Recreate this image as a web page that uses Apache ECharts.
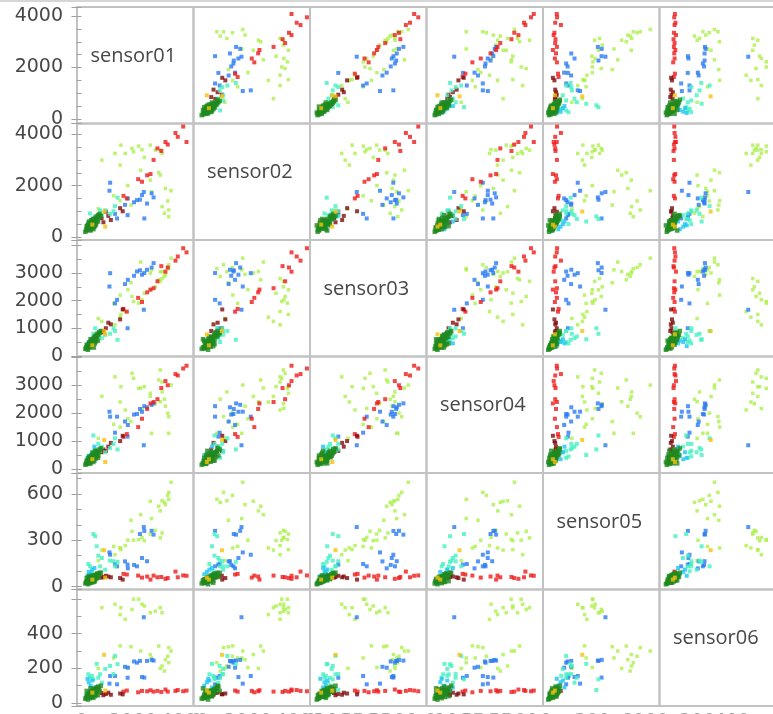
<!DOCTYPE html>
<html>
<head>
<meta charset="utf-8">
<script src="https://cdn.jsdelivr.net/npm/echarts@6/dist/echarts.min.js"></script>
<style>
  html, body { margin: 0; padding: 0; background: #ffffff; }
  #chart { width: 773px; height: 714px; }
</style>
</head>
<body>
<div id="chart"></div>
<script>
// Sensor variables shown on the diagonal
const sensorNames = ['sensor01', 'sensor02', 'sensor03', 'sensor04', 'sensor05', 'sensor06'];

// Axis extents per sensor (same extent used for the row's y axis and the column's x axis)
const axisMin = [-176, -120, -25, -144, -19, -17];
const axisMax = [4351, 4420, 4198, 4030, 735, 655];
const tickStep = [2000, 2000, 1000, 1000, 300, 200];
const minorSplit = [4, 4, 2, 2, 3, 2];
const labelTop = [4000, 4000, 3000, 3000, 600, 400];

// Observations per group: [sensor01, sensor02, sensor03, sensor04, sensor05, sensor06]
const limeRows = [
  [3480, 1800, 3540, 3007, 675, 300],
  [3390, 1050, 3300, 1874, 610, 320],
  [3390, 790, 3160, 1280, 565, 233],
  [3260, 1890, 2950, 2250, 530, 250],
  [3220, 920, 2880, 2500, 545, 185],
  [3130, 1180, 3050, 2760, 555, 214],
  [3060, 2410, 3055, 2410, 490, 200],
  [3000, 2500, 2755, 3190, 520, 329],
  [2720, 1760, 3117, 1279, 440, 260],
  [2670, 2213, 3000, 2600, 552, 280],
  [1920, 1240, 2650, 1700, 429, 325],
  [2300, 2600, 3400, 2900, 465, 300],
  [3350, 1400, 3200, 2000, 590, 270],
  [3130, 3254, 2800, 3117, 347, 521],
  [3060, 3383, 2700, 3547, 315, 550],
  [2870, 3383, 2500, 2340, 364, 530],
  [2670, 3577, 2392, 2712, 340, 521],
  [2440, 3098, 2269, 2949, 297, 560],
  [2350, 3400, 2030, 2170, 318, 570],
  [2220, 3539, 1910, 2890, 304, 599],
  [2020, 3320, 1968, 3249, 300, 599],
  [1960, 3450, 2150, 3428, 358, 540],
  [1700, 3254, 1606, 2114, 265, 483],
  [1530, 3577, 1500, 2949, 239, 550],
  [1300, 3254, 1124, 3300, 206, 570],
  [790, 2993, 1250, 2600, 236, 550],
  [1500, 2798, 1400, 2400, 250, 510],
  [1500, 1411, 2200, 1500, 250, 330],
  [1250, 1600, 1900, 1600, 260, 260],
  [650, 1100, 1350, 1100, 168, 200],
  [1800, 2000, 2400, 1800, 300, 205]
];
const blueRows = [
  [2800, 1540, 3360, 2350, 336, 245],
  [2545, 1300, 3120, 2210, 164, 243],
  [2420, 1750, 1670, 850, 385, 495],
  [2350, 1630, 2940, 2050, 185, 150],
  [2155, 1435, 3055, 1970, 131, 233],
  [1790, 850, 1000, 1160, 142, 146],
  [1800, 1500, 2755, 1576, 118, 204],
  [1380, 720, 2030, 1874, 131, 108],
  [1112, 2112, 2995, 1874, 206, 156],
  [1085, 1800, 2512, 2053, 221, 112],
  [2725, 1700, 3200, 2300, 361, 249],
  [2270, 1450, 3100, 2150, 340, 243],
  [2040, 1350, 2900, 1950, 140, 240],
  [1690, 1250, 2600, 1700, 163, 209],
  [1300, 900, 1900, 1300, 146, 156],
  [2440, 720, 3000, 2250, 360, 147]
];
const redRows = [
  [4080, 3700, 3750, 3700, 70, 72],
  [3950, 4300, 3900, 3600, 72, 68],
  [3740, 3900, 3600, 3350, 60, 75],
  [3650, 4050, 3450, 3400, 97, 70],
  [3350, 3600, 3200, 3000, 55, 66],
  [3260, 3700, 3050, 3150, 50, 78],
  [3100, 3350, 3250, 2900, 62, 64],
  [2950, 3450, 2700, 2500, 60, 70],
  [2800, 3000, 2450, 2400, 71, 66],
  [2680, 2450, 2400, 2350, 45, 74],
  [2550, 2400, 2300, 2150, 65, 68],
  [2350, 2150, 1950, 1800, 58, 70],
  [2200, 2250, 2100, 1500, 71, 62],
  [1760, 1500, 1600, 1250, 78, 72],
  [1630, 1600, 1700, 1150, 82, 66]
];
const maroonRows = [
  [1600, 1000, 1680, 1190, 45, 50],
  [1500, 1120, 1320, 1000, 55, 55],
  [1140, 660, 1140, 935, 60, 48],
  [1040, 820, 1200, 800, 65, 60],
  [944, 983, 1000, 647, 70, 52],
  [850, 571, 900, 700, 62, 45],
  [780, 730, 850, 600, 58, 58]
];
const mintRows = [
  [1400, 1530, 580, 700, 160, 224],
  [1300, 1200, 900, 1100, 131, 272],
  [1240, 1000, 1000, 900, 164, 167],
  [1110, 900, 800, 750, 168, 214],
  [920, 1035, 760, 600, 109, 197],
  [790, 850, 640, 800, 185, 118],
  [720, 1035, 900, 650, 131, 166],
  [650, 700, 700, 900, 200, 146],
  [590, 600, 600, 500, 261, 226],
  [530, 800, 1000, 700, 326, 75],
  [460, 700, 800, 1200, 340, 137],
  [330, 916, 500, 400, 131, 146],
  [265, 500, 450, 450, 146, 166],
  [400, 650, 550, 600, 99, 157]
];
const cyanRows = [
  [280, 400, 500, 350, 95, 120],
  [420, 500, 600, 600, 110, 130],
  [350, 300, 550, 500, 80, 100],
  [500, 600, 450, 800, 120, 90],
  [230, 450, 350, 400, 70, 140]
];
const greenRows = [
  [150, 200, 250, 150, 20, 25], [180, 250, 300, 200, 30, 30], [200, 300, 260, 220, 25, 45],
  [220, 350, 350, 180, 35, 40], [250, 280, 300, 300, 40, 35], [260, 400, 380, 250, 28, 50],
  [280, 320, 420, 280, 45, 55], [300, 450, 350, 350, 38, 42], [310, 380, 450, 200, 50, 60],
  [330, 500, 400, 320, 42, 48], [350, 420, 500, 380, 55, 38], [360, 550, 450, 260, 33, 65],
  [380, 480, 520, 420, 60, 52], [400, 350, 480, 300, 47, 70], [410, 600, 560, 450, 52, 58],
  [430, 520, 600, 350, 65, 44], [450, 650, 500, 480, 40, 75], [460, 450, 620, 400, 58, 62],
  [480, 580, 650, 520, 70, 50], [500, 700, 580, 300, 62, 80], [510, 500, 700, 450, 48, 68],
  [530, 620, 640, 550, 75, 56], [550, 750, 720, 420, 66, 85], [570, 560, 680, 600, 55, 72],
  [590, 680, 760, 500, 80, 64], [600, 800, 700, 650, 70, 90], [620, 720, 800, 560, 85, 78],
  [650, 850, 760, 480, 62, 95], [680, 780, 850, 620, 78, 82], [700, 900, 820, 700, 88, 70],
  [250, 450, 220, 250, 15, 20], [320, 300, 300, 400, 22, 28], [420, 400, 380, 520, 30, 35],
  [520, 420, 450, 650, 35, 40], [380, 650, 350, 300, 25, 55], [460, 300, 550, 250, 45, 30],
  [560, 480, 520, 380, 50, 48], [300, 600, 480, 450, 68, 38], [440, 700, 420, 580, 72, 60],
  [200, 420, 400, 300, 55, 70], [350, 250, 600, 200, 40, 85], [640, 600, 550, 400, 58, 45],
  [750, 820, 900, 740, 90, 100], [480, 380, 300, 480, 30, 52], [270, 550, 330, 380, 60, 42]
];
const goldRows = [
  [880, 990, 900, 1040, 235, 278],
  [920, 400, 780, 250, 58, 72],
  [420, 480, 380, 350, 45, 60]
];

// Draw order: later groups sit on top
const groups = [
  { rows: limeRows, color: '#adf04c', size: 3.5 },
  { rows: blueRows, color: '#2b7af2', size: 4 },
  { rows: redRows, color: '#ee1a1a', size: 4 },
  { rows: maroonRows, color: '#7f0b0b', size: 4 },
  { rows: mintRows, color: '#46f0c2', size: 4 },
  { rows: cyanRows, color: '#1ec4f2', size: 4 },
  { rows: greenRows, color: '#1f8a1f', size: 4.5 },
  { rows: goldRows, color: '#f6c10e', size: 4 }
];

const N = sensorNames.length;
const CELL = 116.5;
const LEFT = 77;
const TOP = 7;
const FRAME = '#c2c2c2';
const TICK = '#a0a0a0';
const TEXT = '#474747';
const LABEL_FONT = '"DejaVu Sans", "Noto Sans", sans-serif';
const TITLE_FONT = '"Open Sans", "Noto Sans", sans-serif';

function labelFormatter(k) {
  return function (v) {
    if (Math.abs(v % tickStep[k]) > 1e-6) return '';
    if (v < 0 || v > labelTop[k]) return '';
    return String(v);
  };
}

function valueAxis(k, gridIndex, showLabels) {
  return {
    type: 'value',
    gridIndex: gridIndex,
    min: axisMin[k],
    max: axisMax[k],
    splitNumber: 2,
    minInterval: tickStep[k],
    maxInterval: tickStep[k],
    show: showLabels,
    axisLine: { show: false },
    axisTick: { show: showLabels, length: 10, lineStyle: { color: TICK, width: 1 } },
    minorTick: { show: showLabels, splitNumber: minorSplit[k], length: 5, lineStyle: { color: TICK, width: 1 } },
    splitLine: { show: false },
    minorSplitLine: { show: false },
    axisLabel: {
      show: showLabels,
      margin: 14,
      color: TEXT,
      fontFamily: LABEL_FONT,
      fontSize: 19,
      formatter: labelFormatter(k)
    }
  };
}

const grids = [];
const xAxes = [];
const yAxes = [];
const series = [];
const graphics = [];

for (let i = 0; i < N; i++) {
  for (let j = 0; j < N; j++) {
    const g = i * N + j;
    grids.push({
      left: LEFT + j * CELL,
      top: TOP + i * CELL,
      width: CELL,
      height: CELL,
      outerBoundsMode: 'none',
      containLabel: false,
      show: true,
      borderColor: FRAME,
      borderWidth: 2,
      backgroundColor: 'transparent'
    });
    // bottom-row x axes: their labels sit just below the lower edge of the view
    const xa = valueAxis(j, g, i === N - 1);
    xa.axisTick.show = false;
    xa.minorTick.show = false;
    xa.axisLabel.margin = 7;
    xa.axisLabel.color = '#9a9a9a';
    xAxes.push(xa);
    yAxes.push(valueAxis(i, g, j === 0));

    if (i === j) {
      graphics.push({
        type: 'text',
        x: LEFT + j * CELL + CELL / 2 - 2,
        y: TOP + i * CELL + CELL / 2 - 9,
        style: {
          text: sensorNames[i],
          fill: TEXT,
          font: '20px ' + TITLE_FONT,
          textAlign: 'center',
          textVerticalAlign: 'middle'
        }
      });
      continue;
    }
    groups.forEach(function (grp) {
      series.push({
        type: 'scatter',
        xAxisIndex: g,
        yAxisIndex: g,
        symbol: 'rect',
        symbolSize: grp.size,
        itemStyle: { color: grp.color },
        silent: true,
        animation: false,
        data: grp.rows.map(function (r) { return [r[j], r[i]]; })
      });
    });
  }
}

// thin rule along the top edge of the view
graphics.push({
  type: 'line',
  shape: { x1: 0, y1: 1, x2: 773, y2: 1 },
  style: { stroke: '#d6d6d6', lineWidth: 2 }
});

const chart = echarts.init(document.getElementById('chart'), null, { renderer: 'canvas' });
chart.setOption({
  backgroundColor: '#ffffff',
  animation: false,
  grid: grids,
  xAxis: xAxes,
  yAxis: yAxes,
  series: series,
  graphic: graphics
});
</script>
</body>
</html>
